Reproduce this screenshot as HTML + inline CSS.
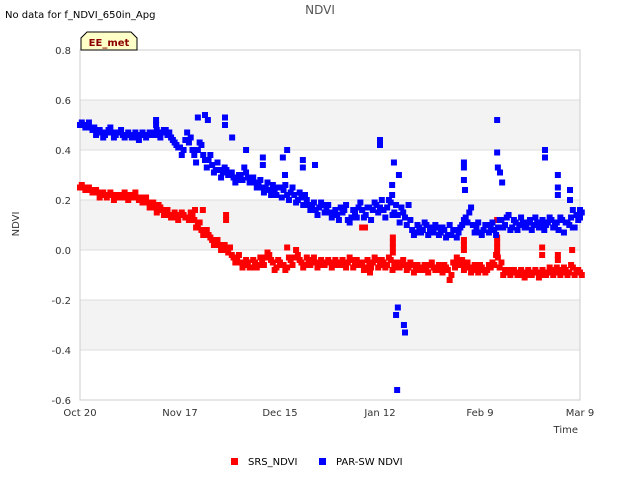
<!DOCTYPE html>
<html><head><meta charset="utf-8"><style>
body{margin:0;background:#fff;font-family:"DejaVu Sans","Liberation Sans",sans-serif}
svg text{font-family:"DejaVu Sans","Liberation Sans",sans-serif}
</style></head><body>
<svg id="chart" width="640" height="480">
<text x="5" y="18" font-size="10" fill="#000">No data for f_NDVI_650in_Apg</text>
<text x="320" y="14" font-size="12" fill="#555" text-anchor="middle">NDVI</text>
<g id="bands"></g>
<g id="grid"></g>
<rect x="80" y="50" width="500" height="350" fill="none" stroke="#ccc"/>
<g id="yticks"></g><g id="xticks"></g>
<g id="marks"></g>
<text x="19" y="224" font-size="10" fill="#333" text-anchor="middle" transform="rotate(-90 19 224)">NDVI</text>
<text x="578" y="433" font-size="10" fill="#333" text-anchor="end">Time</text>
<g>
<path d="M81,50 L81,38 L87,32 L131,32 L137,38 L137,50 Z" fill="#ffffc8" stroke="#000" stroke-width="1"/>
<text x="109" y="46" font-size="10" font-weight="bold" fill="#8b0000" text-anchor="middle">EE_met</text>
</g>
<g><rect x="231" y="458" width="7" height="7" fill="#f00"/><text x="248" y="465" font-size="10" fill="#000">SRS_NDVI</text></g>
<g><rect x="319" y="458" width="7" height="7" fill="#00f"/><text x="336" y="465" font-size="10" fill="#000">PAR-SW NDVI</text></g>
</svg>
<script>
const xTickLabels=["Oct 20","Nov 17","Dec 15","Jan 12","Feb 9","Mar 9"];
const xTickDays=[0,28,56,84,112,140];
const yTicks=[0.8,0.6,0.4,0.2,0.0,-0.2,-0.4,-0.6];
const yTickLabels=["0.8","0.6","0.4","0.2","0.0","-0.2","-0.4","-0.6"];
const blueDaily=[0.50,0.50,0.50,0.49,0.49,0.47,0.47,0.46,0.48,0.47,0.46,0.47,0.46,0.46,0.46,0.46,0.45,0.46,0.46,0.46,0.47,0.47,0.46,0.47,0.48,0.47,0.44,0.42,0.41,0.40,0.47,0.45,0.38,0.40,0.42,0.36,0.36,0.34,0.32,0.32,0.31,0.32,0.30,0.29,0.28,0.30,0.33,0.29,0.28,0.27,0.26,0.25,0.25,0.24,0.26,0.22,0.25,0.24,0.22,0.23,0.22,0.20,0.21,0.22,0.18,0.17,0.16,0.17,0.18,0.16,0.15,0.14,0.14,0.17,0.16,0.12,0.13,0.15,0.17,0.16,0.14,0.17,0.16,0.18,0.17,0.16,0.17,0.19,0.15,0.14,0.17,0.13,0.18,0.08,0.07,0.09,0.08,0.10,0.08,0.07,0.09,0.07,0.08,0.06,0.06,0.08,0.07,0.10,0.13,0.15,0.10,0.09,0.07,0.08,0.10,0.09,0.08,0.09,0.12,0.10,0.14,0.09,0.11,0.10,0.11,0.09,0.12,0.10,0.11,0.10,0.08,0.11,0.12,0.10,0.08,0.12,0.11,0.10,0.09,0.14,0.13];
const blueHalf=[0.51,0.49,0.51,0.48,0.46,0.48,0.45,0.47,0.49,0.45,0.47,0.48,0.45,0.47,0.45,0.47,0.44,0.47,0.45,0.47,0.46,0.48,0.45,0.48,0.46,0.45,0.43,0.41,0.38,0.44,0.43,0.40,0.35,0.43,0.38,0.33,0.38,0.31,0.35,0.29,0.33,0.30,0.31,0.27,0.30,0.28,0.31,0.27,0.29,0.25,0.28,0.23,0.27,0.22,0.24,0.25,0.21,0.26,0.20,0.25,0.19,0.23,0.18,0.20,0.16,0.19,0.14,0.19,0.15,0.18,0.13,0.16,0.12,0.15,0.18,0.11,0.16,0.13,0.19,0.13,0.17,0.12,0.19,0.15,0.20,0.13,0.20,0.14,0.18,0.11,0.15,0.10,0.12,0.06,0.10,0.07,0.11,0.06,0.09,0.10,0.06,0.09,0.05,0.10,0.08,0.05,0.09,0.12,0.11,0.17,0.07,0.11,0.06,0.10,0.07,0.11,0.06,0.12,0.09,0.13,0.08,0.12,0.08,0.13,0.09,0.11,0.08,0.13,0.09,0.12,0.10,0.13,0.09,0.11,0.13,0.07,0.11,0.13,0.09,0.12,0.15];
const redDaily=[0.25,0.25,0.24,0.24,0.23,0.23,0.22,0.22,0.22,0.22,0.21,0.22,0.22,0.21,0.22,0.22,0.21,0.21,0.20,0.19,0.18,0.17,0.18,0.16,0.15,0.14,0.14,0.13,0.14,0.14,0.13,0.15,0.12,0.10,0.08,0.07,0.06,0.04,0.03,0.02,0.01,0.00,0.01,-0.03,-0.04,-0.05,-0.06,-0.05,-0.07,-0.05,-0.06,-0.04,-0.03,-0.02,-0.05,-0.07,-0.05,-0.06,-0.07,-0.04,-0.03,-0.02,-0.05,-0.06,-0.05,-0.04,-0.05,-0.06,-0.05,-0.05,-0.05,-0.06,-0.05,-0.05,-0.06,-0.05,-0.04,-0.06,-0.05,-0.05,-0.07,-0.06,-0.05,-0.04,-0.06,-0.05,-0.06,-0.04,-0.06,-0.07,-0.05,-0.06,-0.07,-0.06,-0.08,-0.07,-0.07,-0.08,-0.06,-0.07,-0.08,-0.07,-0.06,-0.08,-0.10,-0.07,-0.05,-0.04,-0.06,-0.07,-0.08,-0.07,-0.06,-0.08,-0.08,-0.07,-0.06,-0.03,-0.05,-0.08,-0.09,-0.08,-0.09,-0.09,-0.10,-0.09,-0.10,-0.09,-0.09,-0.10,-0.09,-0.09,-0.08,-0.09,-0.08,-0.09,-0.08,-0.09,-0.07,-0.09,-0.09];
const redHalf=[0.26,0.24,0.25,0.23,0.24,0.21,0.23,0.21,0.23,0.20,0.22,0.21,0.23,0.20,0.21,0.23,0.20,0.19,0.21,0.17,0.19,0.15,0.17,0.14,0.16,0.13,0.15,0.12,0.15,0.13,0.12,0.14,0.09,0.11,0.06,0.08,0.05,0.02,0.04,0.00,0.02,-0.01,-0.02,-0.05,-0.02,-0.07,-0.04,-0.07,-0.04,-0.07,-0.03,-0.06,-0.01,-0.04,-0.08,-0.04,-0.06,-0.08,-0.03,-0.06,0.00,-0.04,-0.07,-0.03,-0.06,-0.03,-0.07,-0.04,-0.06,-0.04,-0.07,-0.04,-0.06,-0.04,-0.07,-0.03,-0.07,-0.04,-0.06,-0.08,-0.04,-0.07,-0.03,-0.07,-0.04,-0.07,-0.03,-0.08,-0.05,-0.07,-0.04,-0.08,-0.05,-0.09,-0.06,-0.08,-0.06,-0.09,-0.05,-0.08,-0.06,-0.09,-0.07,-0.12,-0.05,-0.03,-0.06,-0.08,-0.05,-0.09,-0.06,-0.09,-0.07,-0.09,-0.06,-0.05,-0.02,-0.07,-0.10,-0.08,-0.10,-0.08,-0.10,-0.08,-0.11,-0.08,-0.10,-0.08,-0.11,-0.08,-0.10,-0.07,-0.10,-0.07,-0.10,-0.07,-0.10,-0.06,-0.10,-0.08,-0.10];
const blueExtraDays=[84,84,87.9,87.4,87.4,88.5,89,90.7,91,88.8,89.3,107.5,107.5,107.5,107.8,116.8,116.8,117,117.6,118.2,130.2,130.2,133.8,133.8,133.8,137.2,137.2,138,140,33,35,35.8,40.6,40.6,42.6,46.5,51.2,51.2,56.8,58,62.4,62.4,65.8,57.4,21.3,21.3];
const blueExtraVals=[0.44,0.42,0.35,0.26,0.22,-0.26,-0.23,-0.30,-0.33,-0.56,0.30,0.35,0.33,0.28,0.24,0.52,0.39,0.33,0.31,0.27,0.40,0.37,0.30,0.25,0.22,0.24,0.20,0.16,0.16,0.53,0.54,0.52,0.53,0.50,0.45,0.40,0.37,0.34,0.37,0.40,0.36,0.33,0.34,0.30,0.52,0.50];
const redExtraDays=[40.9,40.9,32.2,34.4,79,79,79.8,87.6,87.6,87.6,87.6,107.5,107.5,107.5,116.8,116.8,116.8,116.8,116.8,129.4,129.4,133.8,133.8,137.8,58,81.2];
const redExtraVals=[0.14,0.12,0.16,0.16,0.16,0.09,0.09,0.03,0.01,0.05,-0.01,0.04,0.02,0.00,0.12,0.01,-0.01,0.05,0.03,0.01,-0.02,-0.02,-0.04,0.00,0.01,-0.09];

const X=d=>80+d*500/140, Y=v=>250-v*250;
const NS="http://www.w3.org/2000/svg";
function mk(tag,attrs,parent){const e=document.createElementNS(NS,tag);for(const k in attrs)e.setAttribute(k,attrs[k]);document.getElementById(parent).appendChild(e);return e;}
[[0.6,0.4],[0.2,0.0],[-0.2,-0.4]].forEach(b=>{
 const r=mk('rect',{x:80,y:Y(b[0]),width:500,height:Y(b[1])-Y(b[0]),fill:'#f3f3f3'},'bands');
 
 
});
yTicks.forEach((v,i)=>{
 const l=mk('line',{x1:80,x2:580,y1:Y(v),y2:Y(v),stroke:'#ddd'},'grid');
 
 
 const t=mk('text',{x:71,y:Y(v)+4,'font-size':10,fill:'#333','text-anchor':'end'},'yticks');
 t.textContent=yTickLabels[i];
 
 
});
xTickDays.forEach((d,i)=>{
 const t=mk('text',{x:X(d),y:416,'font-size':10,fill:'#333','text-anchor':'middle'},'xticks');
 t.textContent=xTickLabels[i];
 
 
});
function pt(d,v,c,name){
 const r=mk('rect',{x:X(d)-3,y:Y(v)-3,width:6,height:6,fill:c},'marks');
 
 
}
redDaily.forEach((v,d)=>pt(d,v,'#f00','srs-point'));
redHalf.forEach((v,d)=>pt(d+0.5,v,'#f00','srs-point'));
redExtraDays.forEach((d,i)=>pt(d,redExtraVals[i],'#f00','srs-point'));
blueDaily.forEach((v,d)=>pt(d,v,'#00f','parsw-point'));
blueHalf.forEach((v,d)=>pt(d+0.5,v,'#00f','parsw-point'));
blueExtraDays.forEach((d,i)=>pt(d,blueExtraVals[i],'#00f','parsw-point'));
</script>
</body></html>
